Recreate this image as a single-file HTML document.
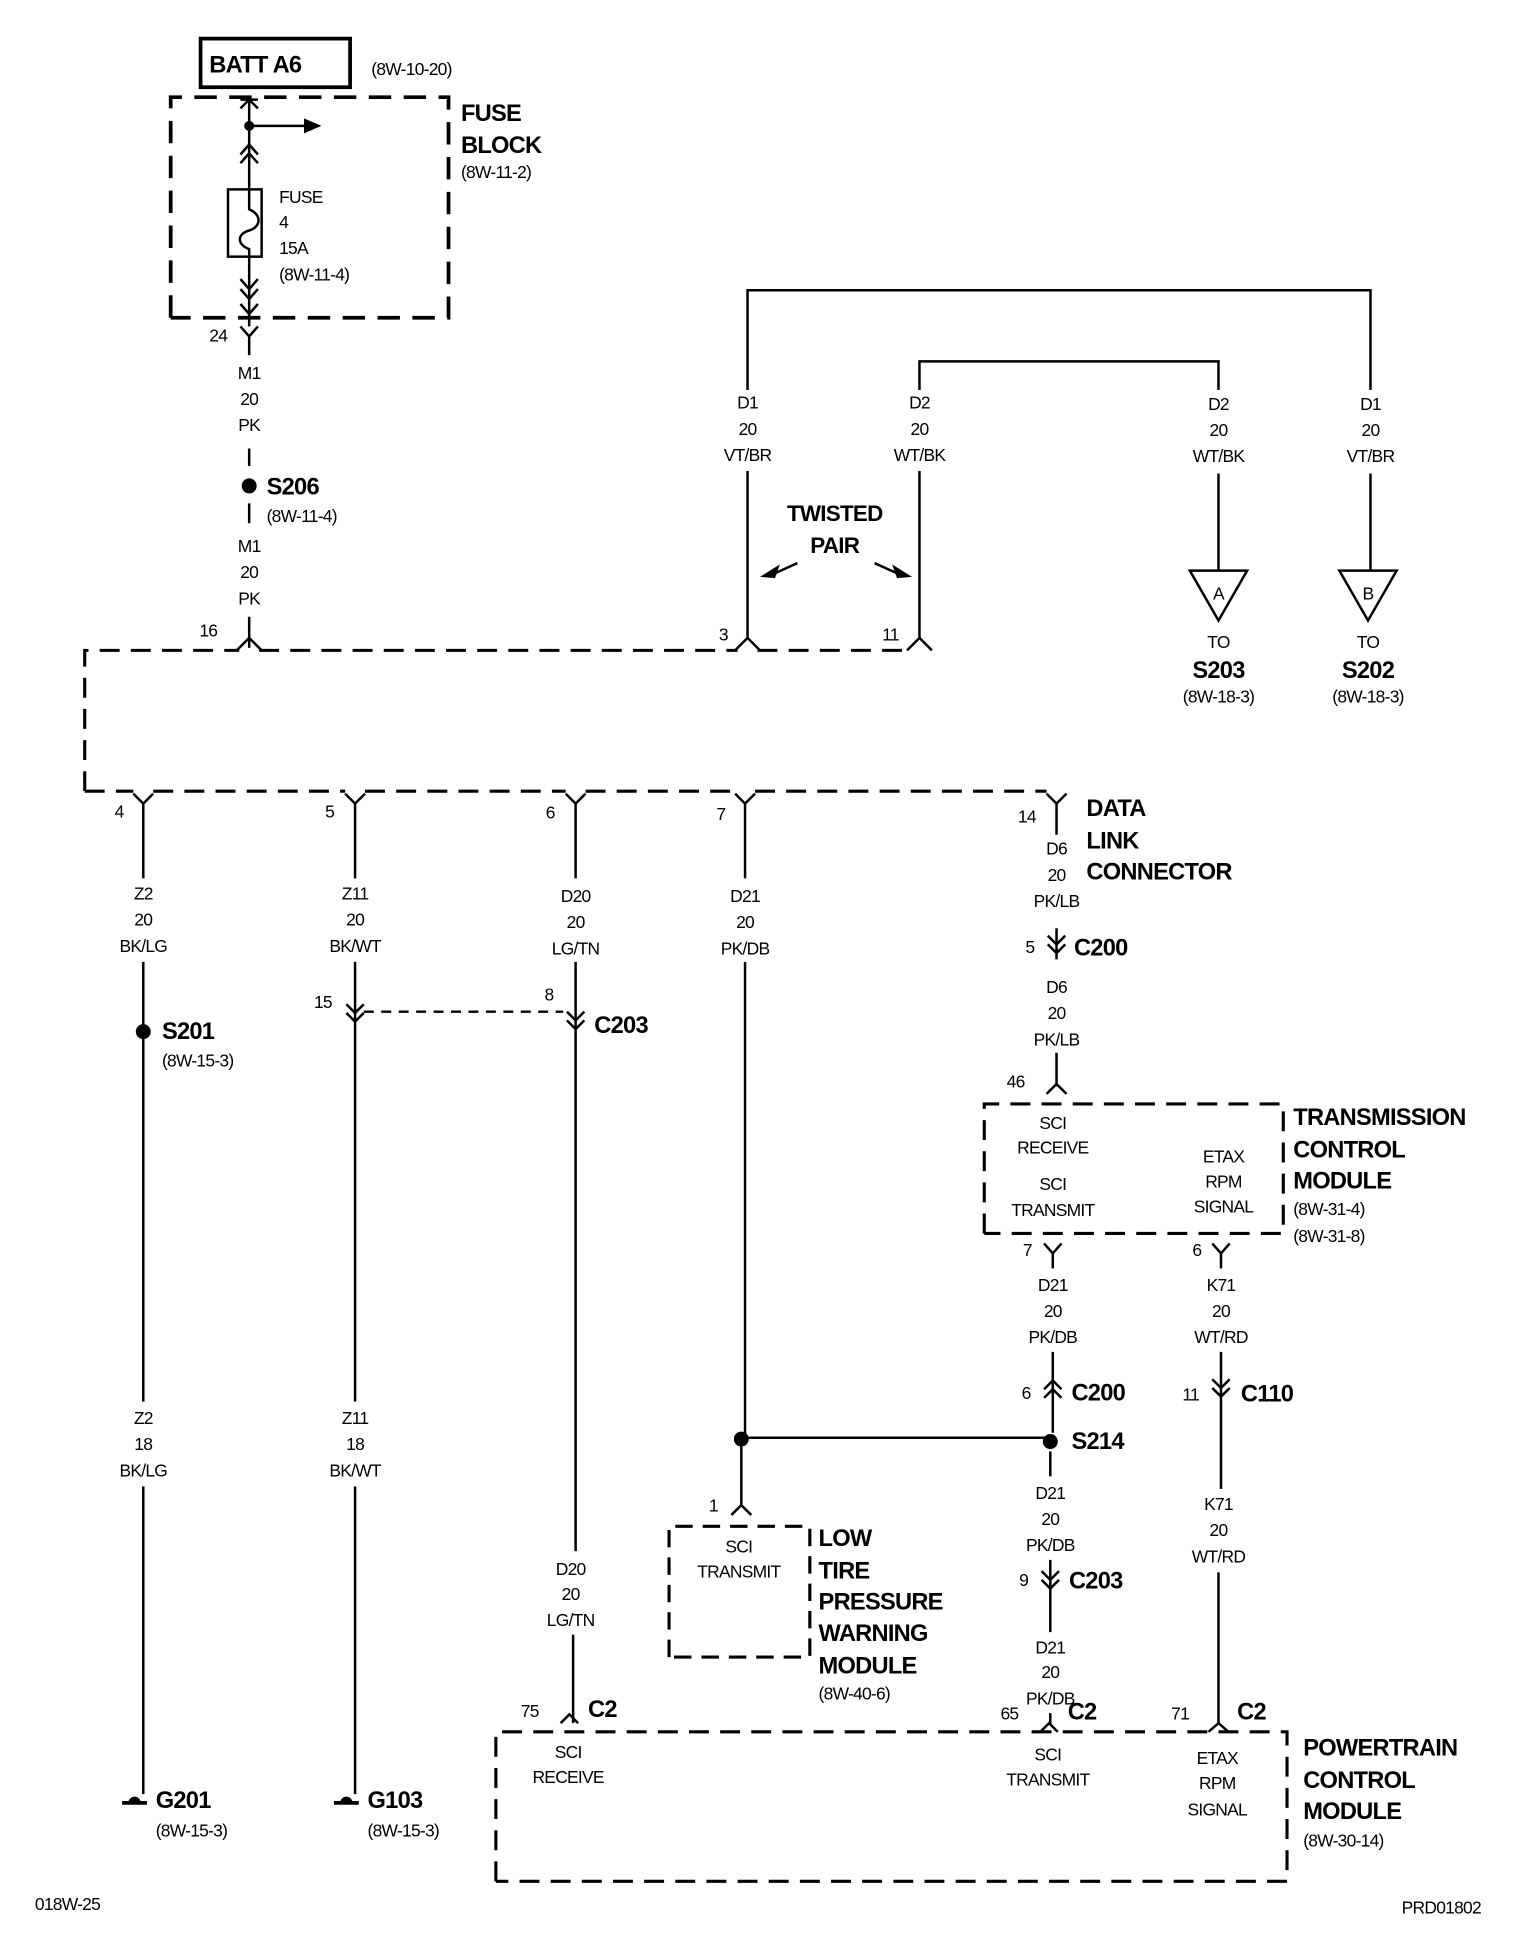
<!DOCTYPE html>
<html><head><meta charset="utf-8"><style>
html,body{margin:0;padding:0;background:#fff;}
svg{display:block}
text{font-family:"Liberation Sans",Arial,sans-serif;fill:#000;letter-spacing:-0.6px}
.s{font-size:14px}
.b{font-size:19px;font-weight:bold}
.c{text-anchor:middle}
</style></head><body>
<svg width="1520" height="1948" viewBox="0 0 1220 1563.5" preserveAspectRatio="none" xmlns="http://www.w3.org/2000/svg">
<g fill="none" stroke="#000" stroke-width="2">
<!-- BATT box -->
<rect x="161" y="31" width="120" height="39" stroke-width="3"/>
<!-- fuse block -->
<path d="M137 255 V78 H360 V255 H137" stroke-width="3" stroke-dasharray="18 10"/>
<!-- main vertical -->
<path d="M200 80 V150 M200 206 V262"/>
<path d="M193 87 L200 80 L207 87 M193 80 H207"/>
<path d="M200 101 H245"/>
<path d="M193 124 L200 116 L207 124 M193 131 L200 123 L207 131"/>
<rect x="183" y="152" width="27" height="54"/>
<path d="M200 150 V168 C210 172 210 182 200 185 C190 188 190 196 200 200 V206"/>
<path d="M193 224 L200 232 L207 224 M193 232 L200 240 L207 232 M193 244 L200 252 L207 244"/>
<path d="M193 262 L200 270 L207 262 M200 270 V285"/>
<path d="M200 360 V374 M200 404 V420 M200 495 V520"/>
<!-- DLC dashed -->
<path d="M68 635 V522 H192 M208 522 H592 M608 522 H730" stroke-width="2.5" stroke-dasharray="16 9"/>
<path d="M68 635 H107 M123 635 H277 M293 635 H454 M470 635 H590 M606 635 H840" stroke-width="2.5" stroke-dasharray="16 9"/>
<path d="M190 522 L200 512 L210 522 M590 522 L600 512 L610 522 M728 522 L738 512 L748 522"/>
<path d="M107 637 L115 645 L123 637 M277 637 L285 645 L293 637 M454 637 L462 645 L470 637 M590 637 L598 645 L606 637 M840 637 L848 645 L856 637"/>
<!-- twisted pair -->
<path d="M600 512 V378 M600 313 V233 H1100 V313 M1100 380 V458"/>
<path d="M738 512 V378 M738 313 V290 H978 V313 M978 380 V458"/>
<path d="M955 458 H1001 L978 498 Z M1075 458 H1121 L1098 498 Z"/>
<path d="M640 452 L620 461 M702 452 L722 461"/>
<!-- bottom wires -->
<path d="M115 645 V705 M115 772 V1125 M115 1193 V1440"/>
<path d="M285 645 V705 M285 772 V1125 M285 1193 V1440"/>
<path d="M278 806 L285 813 L292 806 M278 813 L285 820 L292 813"/>
<path d="M292 812 H452" stroke-dasharray="8 6"/>
<path d="M462 645 V705 M462 772 V1245 M460 1312 V1383"/>
<path d="M455 812 L462 819 L469 812 M455 819 L462 826 L469 819"/>
<path d="M450 1383 L457 1376 L464 1383"/>
<path d="M598 645 V705 M598 772 V1154 H843 M595 1157 V1208"/>
<path d="M587 1216 L595 1208 L603 1216"/>
<path d="M537 1330 V1225 H650 V1330 H537" stroke-width="2.5" stroke-dasharray="14 8"/>
<!-- right column -->
<path d="M848 645 V670 M848 745 V770 M848 845 V872"/>
<path d="M841 751 L848 758 L855 751 M841 758 L848 765 L855 758"/>
<path d="M840 878 L848 870 L856 878"/>
<path d="M790 990 V886 H1030 V990 H790" stroke-width="2.5" stroke-dasharray="16 9"/>
<path d="M838 998 L845 1006 L852 998 M845 1006 V1018 M845 1085 V1150 M843 1165 V1185"/>
<path d="M838 1115 L845 1108 L852 1115 M838 1122 L845 1115 L852 1122"/>
<path d="M843 1252 V1310"/>
<path d="M836 1261 L843 1268 L850 1261 M836 1268 L843 1275 L850 1268"/>
<path d="M843 1375 V1384 M835 1390 L842 1383 L849 1390"/>
<path d="M973 998 L980 1006 L987 998 M980 1006 V1018 M980 1085 V1195 M978 1262 V1384"/>
<path d="M973 1107 L980 1114 L987 1107 M973 1114 L980 1121 L987 1114"/>
<path d="M970 1390 L978 1383 L986 1390"/>
<path d="M398 1510 V1390 H1033 V1510 H398" stroke-width="2.5" stroke-dasharray="16 9"/>
<!-- grounds -->
<path d="M98 1447 H118 M268 1447 H288" stroke-width="3"/>
</g>
<g fill="#000">
<polygon points="258,101 244,95 244,107"/>
<circle cx="200" cy="101" r="4"/>
<circle cx="200" cy="390" r="6"/>
<circle cx="115" cy="828" r="6"/>
<circle cx="595" cy="1155" r="6"/>
<circle cx="843" cy="1157" r="6"/>
<polygon points="610,463 626,453 622,464"/>
<polygon points="732,463 716,453 720,464"/>
<path d="M103 1447 a5 5 0 0 1 10 0 Z M273 1447 a5 5 0 0 1 10 0 Z"/>
</g>
<text x="168" y="58" class="b">BATT A6</text>
<text x="298" y="60" class="s">(8W-10-20)</text>
<text x="370" y="97" class="b">FUSE</text>
<text x="370" y="123" class="b">BLOCK</text>
<text x="370" y="143" class="s">(8W-11-2)</text>
<text x="224" y="163" class="s">FUSE</text>
<text x="224" y="183" class="s">4</text>
<text x="224" y="204" class="s">15A</text>
<text x="224" y="225" class="s">(8W-11-4)</text>
<text x="168" y="274" class="s">24</text>
<g class="s c"><text x="200" y="304" class="s c">M1</text><text x="200" y="325" class="s c">20</text><text x="200" y="346" class="s c">PK</text></g>
<text x="214" y="397" class="b">S206</text>
<text x="214" y="419" class="s">(8W-11-4)</text>
<text x="200" y="443" class="s c">M1</text><text x="200" y="464" class="s c">20</text><text x="200" y="485" class="s c">PK</text>
<text x="160" y="511" class="s">16</text>
<text x="577" y="514" class="s">3</text>
<text x="708" y="514" class="s">11</text>
<text x="600" y="328" class="s c">D1</text><text x="600" y="349" class="s c">20</text><text x="600" y="370" class="s c">VT/BR</text>
<text x="738" y="328" class="s c">D2</text><text x="738" y="349" class="s c">20</text><text x="738" y="370" class="s c">WT/BK</text>
<text x="978" y="329" class="s c">D2</text><text x="978" y="350" class="s c">20</text><text x="978" y="371" class="s c">WT/BK</text>
<text x="1100" y="329" class="s c">D1</text><text x="1100" y="350" class="s c">20</text><text x="1100" y="371" class="s c">VT/BR</text>
<text x="670" y="418" class="b c" style="font-size:18px">TWISTED</text>
<text x="670" y="444" class="b c" style="font-size:18px">PAIR</text>
<text x="978" y="481" class="s c">A</text><text x="1098" y="481" class="s c">B</text>
<text x="978" y="520" class="s c">TO</text><text x="1098" y="520" class="s c">TO</text>
<text x="978" y="544" class="b c">S203</text><text x="1098" y="544" class="b c">S202</text>
<text x="978" y="564" class="s c">(8W-18-3)</text><text x="1098" y="564" class="s c">(8W-18-3)</text>
<text x="92" y="656" class="s">4</text><text x="261" y="656" class="s">5</text><text x="438" y="657" class="s">6</text><text x="575" y="658" class="s">7</text><text x="817" y="660" class="s">14</text>
<text x="115" y="722" class="s c">Z2</text><text x="115" y="743" class="s c">20</text><text x="115" y="764" class="s c">BK/LG</text>
<text x="285" y="722" class="s c">Z11</text><text x="285" y="743" class="s c">20</text><text x="285" y="764" class="s c">BK/WT</text>
<text x="462" y="724" class="s c">D20</text><text x="462" y="745" class="s c">20</text><text x="462" y="766" class="s c">LG/TN</text>
<text x="598" y="724" class="s c">D21</text><text x="598" y="745" class="s c">20</text><text x="598" y="766" class="s c">PK/DB</text>
<text x="130" y="834" class="b">S201</text><text x="130" y="856" class="s">(8W-15-3)</text>
<text x="252" y="809" class="s">15</text>
<text x="437" y="803" class="s">8</text>
<text x="477" y="829" class="b">C203</text>
<text x="115" y="1143" class="s c">Z2</text><text x="115" y="1164" class="s c">18</text><text x="115" y="1185" class="s c">BK/LG</text>
<text x="285" y="1143" class="s c">Z11</text><text x="285" y="1164" class="s c">18</text><text x="285" y="1185" class="s c">BK/WT</text>
<text x="125" y="1451" class="b">G201</text><text x="125" y="1474" class="s">(8W-15-3)</text>
<text x="295" y="1451" class="b">G103</text><text x="295" y="1474" class="s">(8W-15-3)</text>
<text x="458" y="1264" class="s c">D20</text><text x="458" y="1284" class="s c">20</text><text x="458" y="1305" class="s c">LG/TN</text>
<text x="418" y="1378" class="s">75</text><text x="472" y="1378" class="b">C2</text>
<text x="456" y="1411" class="s c">SCI</text><text x="456" y="1431" class="s c">RECEIVE</text>
<text x="569" y="1213" class="s">1</text>
<text x="593" y="1246" class="s c">SCI</text><text x="593" y="1266" class="s c">TRANSMIT</text>
<text x="657" y="1241" class="b">LOW</text><text x="657" y="1267" class="b">TIRE</text><text x="657" y="1292" class="b">PRESSURE</text><text x="657" y="1317" class="b">WARNING</text><text x="657" y="1343" class="b">MODULE</text>
<text x="657" y="1364" class="s">(8W-40-6)</text>
<text x="848" y="686" class="s c">D6</text><text x="848" y="707" class="s c">20</text><text x="848" y="728" class="s c">PK/LB</text>
<text x="872" y="655" class="b">DATA</text><text x="872" y="681" class="b">LINK</text><text x="872" y="706" class="b">CONNECTOR</text>
<text x="823" y="765" class="s">5</text><text x="862" y="767" class="b">C200</text>
<text x="848" y="797" class="s c">D6</text><text x="848" y="818" class="s c">20</text><text x="848" y="839" class="s c">PK/LB</text>
<text x="808" y="873" class="s">46</text>
<text x="845" y="906" class="s c">SCI</text><text x="845" y="926" class="s c">RECEIVE</text>
<text x="845" y="955" class="s c">SCI</text><text x="845" y="976" class="s c">TRANSMIT</text>
<text x="982" y="933" class="s c">ETAX</text><text x="982" y="953" class="s c">RPM</text><text x="982" y="973" class="s c">SIGNAL</text>
<text x="1038" y="903" class="b">TRANSMISSION</text><text x="1038" y="929" class="b">CONTROL</text><text x="1038" y="954" class="b">MODULE</text>
<text x="1038" y="975" class="s">(8W-31-4)</text><text x="1038" y="997" class="s">(8W-31-8)</text>
<text x="821" y="1008" class="s">7</text><text x="957" y="1008" class="s">6</text>
<text x="845" y="1036" class="s c">D21</text><text x="845" y="1057" class="s c">20</text><text x="845" y="1078" class="s c">PK/DB</text>
<text x="980" y="1036" class="s c">K71</text><text x="980" y="1057" class="s c">20</text><text x="980" y="1078" class="s c">WT/RD</text>
<text x="820" y="1123" class="s">6</text><text x="860" y="1124" class="b">C200</text>
<text x="949" y="1124" class="s">11</text><text x="996" y="1125" class="b">C110</text>
<text x="860" y="1163" class="b">S214</text>
<text x="843" y="1203" class="s c">D21</text><text x="843" y="1224" class="s c">20</text><text x="843" y="1245" class="s c">PK/DB</text>
<text x="978" y="1212" class="s c">K71</text><text x="978" y="1233" class="s c">20</text><text x="978" y="1254" class="s c">WT/RD</text>
<text x="818" y="1273" class="s">9</text><text x="858" y="1275" class="b">C203</text>
<text x="843" y="1327" class="s c">D21</text><text x="843" y="1347" class="s c">20</text><text x="843" y="1368" class="s c">PK/DB</text>
<text x="803" y="1380" class="s">65</text><text x="857" y="1380" class="b">C2</text>
<text x="940" y="1380" class="s">71</text><text x="993" y="1380" class="b">C2</text>
<text x="841" y="1413" class="s c">SCI</text><text x="841" y="1433" class="s c">TRANSMIT</text>
<text x="977" y="1416" class="s c">ETAX</text><text x="977" y="1436" class="s c">RPM</text><text x="977" y="1457" class="s c">SIGNAL</text>
<text x="1046" y="1409" class="b">POWERTRAIN</text><text x="1046" y="1435" class="b">CONTROL</text><text x="1046" y="1460" class="b">MODULE</text>
<text x="1046" y="1482" class="s">(8W-30-14)</text>
<text x="28" y="1533" class="s">018W-25</text>
<text x="1125" y="1536" class="s">PRD01802</text>
</svg>
</body></html>
